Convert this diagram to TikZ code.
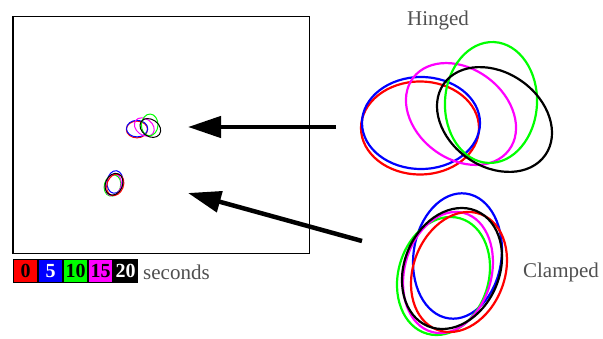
\documentclass[tikz,border=0pt]{standalone}
\usepackage{fontspec}
\setmainfont{Liberation Serif}
\usetikzlibrary{arrows.meta}
\definecolor{txtgray}{HTML}{505050}
\definecolor{pred}{RGB}{255,0,0}
\definecolor{pblue}{RGB}{0,0,255}
\definecolor{pgreen}{RGB}{0,255,0}
\definecolor{pmag}{RGB}{255,0,255}
\newcommand{\myell}[6]{\draw[#1] (#2,#3) ellipse[x radius=#4, y radius=#5, rotate=#6];}
\newcommand{\hingedset}{%
  \myell{pred}{-36.5}{-19.5}{59}{46.5}{0}
  \myell{pblue}{-35.5}{-14.5}{59}{46}{0}
  \myell{pmag}{4.5}{-5.5}{60}{45}{-37}
  \myell{pgreen}{34.5}{6}{46}{60.5}{-3}
  \myell{black}{38}{-11}{62}{47}{-35}
}
\newcommand{\clampedset}{%
  \myell{pblue}{5.5}{8.5}{44}{63}{-8}
  \myell{pgreen}{-8.5}{-11.5}{45.2}{60}{-16}
  \myell{pmag}{-4}{-8}{43.5}{61.6}{-15}
  \myell{pred}{7}{-7.5}{45.7}{61.8}{-20.6}
  \myell{black}{0}{-4}{47.5}{62.5}{-22.7}
}
\tikzset{
  big/.style={line width=2.2pt},
  mini/.style={line width=1pt},
  bigarrow/.style={line width=4.5pt, -{Triangle[length=33pt,width=21pt]}},
  label/.style={text=txtgray, font=\fontsize{21}{25}\selectfont, inner sep=0pt},
  cbox/.style={draw=black, line width=0.8pt, minimum width=24.2pt, minimum height=23.2pt, inner sep=0pt, font=\fontsize{20}{24}\selectfont\bfseries, anchor=west}
}
\begin{document}
\begin{tikzpicture}[x=1pt,y=1pt]
\useasboundingbox (0,0) rectangle (603,338);
% main frame
\node[draw=black, line width=1.5pt, minimum width=296.5pt, minimum height=236.5pt, inner sep=0pt, anchor=north west] (frame) at (12,322) {};
% mini ellipses
\begin{scope}[shift={(143.5,212)}, scale=0.18, mini]
  \hingedset
\end{scope}
\begin{scope}[shift={(114,154.5)}, scale=0.18, mini]
  \clampedset
\end{scope}
% big ellipses
\begin{scope}[shift={(456.5,229.5)}, big]
  \hingedset
\end{scope}
\begin{scope}[shift={(452,73.5)}, big]
  \clampedset
\end{scope}
% labels
\node[label] (hinged) at (438,318) {Hinged};
\node[label] (clamped) at (561,66) {Clamped};
% arrows
\coordinate (h1) at (336,211);
\coordinate (h2) at (188,211);
\coordinate (c1) at (362,97);
\coordinate (c2) at (188,145);
\draw[bigarrow] (h1) -- (h2);
\draw[bigarrow] (c1) -- (c2);
% colour bar
\node[cbox, fill=pred, text=black] (b0) at (13,67) {0};
\node[cbox, fill=pblue, text=white] (b5) at (b0.east) {5};
\node[cbox, fill=pgreen, text=black] (b10) at (b5.east) {10};
\node[cbox, fill=pmag, text=black] (b15) at (b10.east) {15};
\node[cbox, fill=black, text=white] (b20) at (b15.east) {20};
\node[label, anchor=west] (sec) at (143,66) {seconds};
\end{tikzpicture}
\end{document}
